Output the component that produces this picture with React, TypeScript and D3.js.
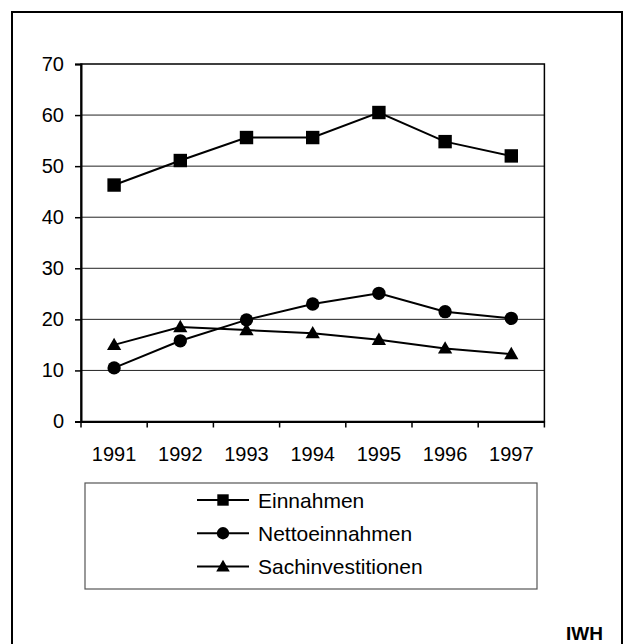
import React, { useEffect, useRef } from "react";
import * as d3 from "d3";

const years = ["1991", "1992", "1993", "1994", "1995", "1996", "1997"];
const einnahmen = [46.3, 51.1, 55.6, 55.6, 60.5, 54.8, 52.0];
const nettoeinnahmen = [10.5, 15.8, 19.9, 23.0, 25.1, 21.5, 20.2];
const sachinvestitionen = [15.0, 18.5, 17.9, 17.3, 16.0, 14.3, 13.2];
const yTicks = [0, 10, 20, 30, 40, 50, 60, 70];
const seriesNames = ["Einnahmen", "Nettoeinnahmen", "Sachinvestitionen"];

const FONT = "'Liberation Sans', Arial, sans-serif";

const App: React.FC = () => {
  const svgRef = useRef<SVGSVGElement | null>(null);

  useEffect(() => {
    if (!svgRef.current) return;
    const svg = d3.select(svgRef.current);
    svg.selectAll("*").remove();

    const width = 625;
    const height = 644;
    const plot = { left: 81, right: 544.4, top: 64, bottom: 421.5 };

    svg.attr("width", width).attr("height", height);

    // outer frame
    svg
      .append("rect")
      .attr("x", 12)
      .attr("y", 12)
      .attr("width", 610)
      .attr("height", 640)
      .attr("fill", "#fff")
      .attr("stroke", "#000")
      .attr("stroke-width", 2);

    const x = d3.scaleBand().domain(years).range([plot.left, plot.right]).padding(0);
    const y = d3.scaleLinear().domain([0, 70]).range([plot.bottom, plot.top]);
    const cx = (d: string) => x(d)! + x.bandwidth() / 2;

    // gridlines
    svg
      .append("g")
      .selectAll("line")
      .data(yTicks.filter((t) => t > 0 && t < 70))
      .join("line")
      .attr("x1", plot.left)
      .attr("x2", plot.right)
      .attr("y1", (d) => y(d))
      .attr("y2", (d) => y(d))
      .attr("stroke", "#222")
      .attr("stroke-width", 1);

    // plot frame
    svg
      .append("rect")
      .attr("x", plot.left)
      .attr("y", plot.top)
      .attr("width", plot.right - plot.left)
      .attr("height", plot.bottom - plot.top)
      .attr("fill", "none")
      .attr("stroke", "#000")
      .attr("stroke-width", 1.5);

    const yAxis = svg
      .append("g")
      .attr("transform", `translate(${plot.left},0)`)
      .call(d3.axisLeft(y).tickValues(yTicks).tickSize(6).tickPadding(11));
    yAxis.select(".domain").attr("stroke-width", 2);

    const xAxis = svg
      .append("g")
      .attr("transform", `translate(0,${plot.bottom})`)
      .call(d3.axisBottom(x).tickSize(0).tickPadding(25));
    xAxis.select(".domain").attr("stroke-width", 2);

    // ticks sit on the category boundaries
    const bounds = years.map((d) => x(d)!).concat([plot.right]);
    svg
      .append("g")
      .selectAll("line")
      .data(bounds)
      .join("line")
      .attr("x1", (d) => d)
      .attr("x2", (d) => d)
      .attr("y1", plot.bottom)
      .attr("y2", plot.bottom + 6)
      .attr("stroke", "#000")
      .attr("stroke-width", 1.5);

    svg
      .selectAll(".tick text")
      .attr("font-family", FONT)
      .attr("font-size", 20)
      .attr("fill", "#000");
    svg.selectAll(".tick line").attr("stroke", "#000").attr("stroke-width", 1.5);

    const symbols = [d3.symbolSquare, d3.symbolCircle, d3.symbolTriangle];
    const sizes = [180, 140, 88];
    const allSeries = [einnahmen, nettoeinnahmen, sachinvestitionen];

    const line = d3
      .line<number>()
      .x((_, i) => cx(years[i]))
      .y((d) => y(d));

    allSeries.forEach((vals, si) => {
      svg
        .append("path")
        .datum(vals)
        .attr("d", line)
        .attr("fill", "none")
        .attr("stroke", "#000")
        .attr("stroke-width", 2);

      svg
        .append("g")
        .selectAll("path")
        .data(vals)
        .join("path")
        .attr("transform", (d, i) => `translate(${cx(years[i])},${y(d) + (si === 2 ? 1 : 0)})`)
        .attr("d", d3.symbol(symbols[si], sizes[si])())
        .attr("fill", "#000");
    });

    // legend
    const legend = svg.append("g");
    legend
      .append("rect")
      .attr("x", 85)
      .attr("y", 483)
      .attr("width", 452)
      .attr("height", 106)
      .attr("fill", "#fff")
      .attr("stroke", "#555")
      .attr("stroke-width", 1.2);

    const rowY = d3.scalePoint().domain(seriesNames).range([500, 566.5]);
    const legendSizes = [130, 120, 80];
    seriesNames.forEach((name, si) => {
      const ly = rowY(name)!;
      legend
        .append("line")
        .attr("x1", 197)
        .attr("x2", 249)
        .attr("y1", ly)
        .attr("y2", ly)
        .attr("stroke", "#000")
        .attr("stroke-width", 2);
      legend
        .append("path")
        .attr("transform", `translate(223,${ly + (si === 2 ? 1 : 0)})`)
        .attr("d", d3.symbol(symbols[si], legendSizes[si])())
        .attr("fill", "#000");
      legend
        .append("text")
        .attr("x", 258)
        .attr("y", ly)
        .attr("dy", "0.36em")
        .attr("font-family", FONT)
        .attr("font-size", 21)
        .text(name);
    });

    svg
      .append("text")
      .attr("x", 603)
      .attr("y", 640)
      .attr("text-anchor", "end")
      .attr("font-family", FONT)
      .attr("font-weight", "bold")
      .attr("font-size", 19)
      .text("IWH");
  }, []);

  return <svg ref={svgRef} style={{ position: "absolute", left: 0, top: 0 }}></svg>;
};

export default App;
